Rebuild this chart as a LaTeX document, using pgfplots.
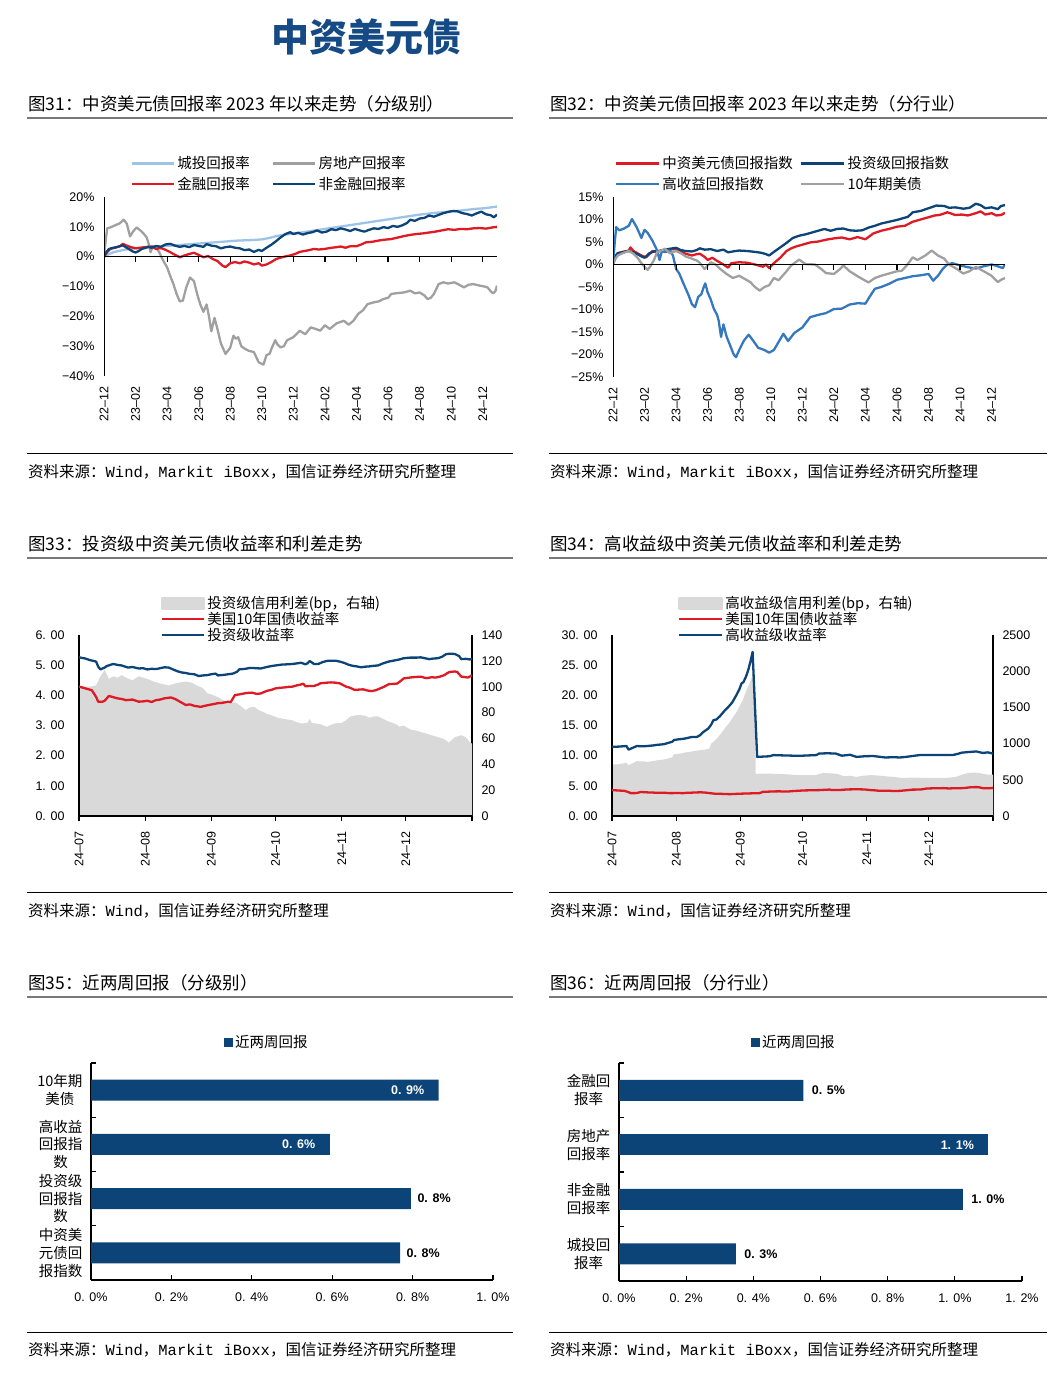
\documentclass[border=0pt]{standalone}
\usepackage{pgfplots}
\pgfplotsset{compat=1.18}
\usepackage{fontspec}
\setmainfont{Noto Sans CJK SC}
\newfontfamily\arial{Liberation Sans}
\newfontfamily\mono{Liberation Mono}
\definecolor{navy}{RGB}{12,68,120}
\definecolor{cred}{RGB}{222,26,36}
\definecolor{lblue}{RGB}{157,195,230}
\definecolor{cgray}{RGB}{160,160,160}
\definecolor{mblue}{RGB}{52,120,190}
\definecolor{agray}{RGB}{217,217,217}
\definecolor{tblue}{RGB}{22,74,132}
\definecolor{hgray}{RGB}{120,120,120}
\pgfplotsset{
 base/.style={scale only axis, enlargelimits=false,
   tick label style={font=\arial\fontsize{12.5}{14}\selectfont},
   legend style={draw=none, fill=none, inner sep=0pt, outer sep=0pt,
     font=\fontsize{14.5}{17}\selectfont, nodes={inner xsep=2.5pt, inner ysep=1pt}, anchor=north west},
   legend cell align=left},
}
\pgfplotstableread{
x y
0 4.29
3 4.23
6 4.17
8 3.95
9 3.79
11 3.79
12 3.82
14 3.98
16 3.94
18 3.90
20 3.88
22 3.84
25 3.86
28 3.79
30 3.80
32 3.82
34 3.78
36 3.84
38 3.86
40 3.90
43 3.93
45 3.88
47 3.80
50 3.68
52 3.70
54 3.65
57 3.62
60 3.67
63 3.71
65 3.74
67 3.75
70 3.79
71 3.77
73 4.01
75 4.03
77 4.06
79 4.08
81 4.09
83 4.05
85 4.06
88 4.15
90 4.18
92 4.23
94 4.25
96 4.26
98 4.28
100 4.29
102 4.33
104 4.36
105 4.39
106 4.30
108 4.31
110 4.31
112 4.36
113 4.40
116 4.42
118 4.43
120 4.42
122 4.40
125 4.29
127 4.25
129 4.18
131 4.19
133 4.20
135 4.16
137 4.14
139 4.17
141 4.23
143 4.29
145 4.37
147 4.38
149 4.39
151 4.50
152 4.56
154 4.58
156 4.60
158 4.61
160 4.62
162 4.58
163 4.57
165 4.60
167 4.59
169 4.62
171 4.67
173 4.76
174 4.78
176 4.79
177 4.78
178 4.70
179 4.62
181 4.60
182 4.59
183 4.62
184 4.67
}\ustreasury
\begin{document}
\begin{tikzpicture}
\path[use as bounding box] (0pt,0pt) rectangle (1061pt,-1381pt);
% ---------- page title and frames ----------
\node[text=tblue, font=\fontsize{38}{42}\selectfont\bfseries] at (366.5pt,-37pt) {中资美元债};
\foreach \yh/\ys/\yl/\ysrc/\tl/\tr in {
  104/118/453/472/{图31：中资美元债回报率 2023 年以来走势（分级别）}/{图32：中资美元债回报率 2023 年以来走势（分行业）},
  544/558/892/911/{图33：投资级中资美元债收益率和利差走势}/{图34：高收益级中资美元债收益率和利差走势},
  983/997/1332/1350/{图35：近两周回报（分级别）}/{图36：近两周回报（分行业）}}{
  \node[anchor=west, inner sep=0pt, font=\fontsize{17.5}{20}\selectfont] at (28pt,-\yh pt) {\tl};
  \node[anchor=west, inner sep=0pt, font=\fontsize{17.5}{20}\selectfont] at (550pt,-\yh pt) {\tr};
  \draw[hgray, line width=1.6pt] (27pt,-\ys pt) -- (513pt,-\ys pt);
  \draw[hgray, line width=1.6pt] (549pt,-\ys pt) -- (1047pt,-\ys pt);
  \draw[black, line width=0.9pt] (27pt,-\yl pt) -- (513pt,-\yl pt);
  \draw[black, line width=0.9pt] (549pt,-\yl pt) -- (1047pt,-\yl pt);
}
\foreach \ysrc/\who in {472/1,911/0,1350/1}{
  \node[anchor=west, inner sep=0pt, font=\fontsize{15.5}{18}\selectfont] at (28pt,-\ysrc pt)
    {资料来源：{\mono Wind}，\ifnum\who=1 {\mono Markit iBoxx}，\fi 国信证券经济研究所整理};
  \node[anchor=west, inner sep=0pt, font=\fontsize{15.5}{18}\selectfont] at (550pt,-\ysrc pt)
    {资料来源：{\mono Wind}，\ifnum\who=1 {\mono Markit iBoxx}，\fi 国信证券经济研究所整理};
}
% ---------- Figure 31 ----------
\begin{axis}[base, at={(104pt,-376pt)}, anchor=south west, width=393pt, height=179pt,
  xmin=0, xmax=24.9, ymin=-40, ymax=20,
  axis line style={draw=none}, tick style={draw=none},
  xtick={0,2,...,24},
  xticklabels={22–12,23–02,23–04,23–06,23–08,23–10,23–12,24–02,24–04,24–06,24–08,24–10,24–12},
  xticklabel style={yshift=-7pt, rotate=90, anchor=east},
  ytick={-40,-30,...,20},
  yticklabels={−40\%,−30\%,−20\%,−10\%,0\%,10\%,20\%},
  yticklabel style={xshift=-6pt},
  legend columns=2,
  legend style={at={(axis description cs:0.0674,1.232)}, /tikz/every even column/.append style={column sep=19.5pt}, row sep=5pt},
  legend image code/.code={\draw[#1] (0pt,0pt) -- (42pt,0pt);},
  every axis plot/.append style={line width=2.3pt, line join=round},
]
\addplot[lblue] coordinates {(0,0) (0.3,0.8) (0.6,1.5) (1,2.0) (1.5,2.5) (2,2.8) (2.5,3.0) (3,3.2) (3.5,3.4) (4,3.6) (4.5,3.8) (5,4.0) (5.5,4.2) (6,4.4) (6.5,4.6) (7,4.8) (7.5,5.0) (8,5.2) (8.5,5.4) (9,5.5) (9.5,5.6) (10,5.8) (10.5,6.3) (11,7.0) (11.5,7.4) (12,7.7) (12.5,8.1) (13,8.5) (13.5,8.9) (14,9.3) (14.5,9.7) (15,10.1) (15.5,10.5) (16,10.9) (16.5,11.3) (17,11.7) (17.5,12.1) (18,12.5) (18.5,12.9) (19,13.3) (19.5,13.7) (20,14.1) (20.5,14.4) (21,14.7) (21.5,14.9) (22,15.2) (22.5,15.4) (23,15.7) (23.5,16.0) (24,16.2) (24.5,16.5) (24.9,16.8)};
\addlegendentry{城投回报率}
\addplot[cgray] coordinates {(0,0) (0.1,5) (0.2,9.5) (0.4,9.8) (0.7,10.5) (1.0,11.2) (1.25,12.4) (1.45,11.0) (1.65,6.8) (1.85,8.5) (2.07,9.8) (2.3,8.8) (2.5,7.8) (2.7,6.5) (2.85,4.0) (2.95,1.5) (3.1,3.5) (3.3,3.0) (3.5,1.5) (3.75,-1.3) (4.0,-3.6) (4.2,-6.5) (4.4,-9.2) (4.6,-12.5) (4.8,-15.0) (5.0,-14.7) (5.2,-10.5) (5.45,-7.0) (5.7,-8.2) (5.9,-12.5) (6.1,-16.0) (6.3,-18.5) (6.5,-16.0) (6.65,-20) (6.8,-25.0) (7.0,-20.5) (7.2,-24.5) (7.4,-29.0) (7.7,-32.6) (8.0,-30.5) (8.2,-26.5) (8.35,-27.5) (8.5,-27.0) (8.7,-30.0) (8.9,-30.8) (9.15,-31.5) (9.5,-32.0) (9.8,-35.4) (10.1,-36.2) (10.3,-33.0) (10.5,-32.5) (10.6,-31.0) (10.85,-28.0) (11.0,-29.5) (11.2,-30.4) (11.4,-30.0) (11.6,-28.0) (12.0,-27.0) (12.4,-24.8) (12.75,-26.0) (13.1,-23.7) (13.4,-24.2) (13.7,-24.8) (14.0,-23.0) (14.3,-24.2) (14.75,-22.3) (15.2,-21.5) (15.5,-22.8) (15.8,-21.5) (16.1,-19.2) (16.4,-18.0) (16.7,-15.9) (17.1,-15.3) (17.4,-15.0) (17.7,-14.2) (18.0,-13.8) (18.2,-12.5) (18.6,-12.2) (19.0,-12.0) (19.4,-11.4) (19.7,-12.3) (20.0,-12.0) (20.3,-13.0) (20.5,-14.2) (20.7,-13.8) (20.9,-12.5) (21.2,-9.2) (21.5,-8.6) (21.8,-9.0) (22.2,-8.6) (22.5,-9.4) (22.8,-10.3) (23.1,-9.4) (23.4,-9.2) (23.8,-9.7) (24.1,-10.0) (24.3,-10.3) (24.5,-11.6) (24.65,-12.3) (24.8,-11.5) (24.9,-9.7)};
\addlegendentry{房地产回报率}
\addplot[cred] coordinates {(0,0) (0.2,1.5) (0.4,2.6) (0.7,3.0) (1.0,3.5) (1.2,4.3) (1.4,3.8) (1.7,3.2) (2.0,2.8) (2.3,3.0) (2.6,3.2) (3.0,3.4) (3.3,2.6) (3.6,2.9) (3.9,2.3) (4.2,1.5) (4.5,0.6) (4.8,-0.2) (5.1,0.4) (5.4,0.9) (5.7,1.3) (6.0,0.6) (6.3,-0.2) (6.6,0.2) (6.9,-0.8) (7.2,-1.5) (7.5,-3.0) (7.7,-3.5) (8.0,-2.2) (8.3,-1.8) (8.6,-2.2) (8.9,-1.6) (9.2,-2.0) (9.5,-2.6) (9.8,-2.2) (10.0,-3.0) (10.3,-2.6) (10.6,-1.8) (10.9,-0.8) (11.2,-0.3) (11.5,0.1) (11.8,0.4) (12.1,0.9) (12.4,1.6) (12.7,1.9) (13.0,2.2) (13.3,2.6) (13.6,2.4) (14.0,2.6) (14.3,2.9) (14.6,3.1) (15.0,3.4) (15.3,3.0) (15.6,3.5) (16.0,3.5) (16.3,4.1) (16.6,4.8) (17.0,5.0) (17.4,5.4) (17.8,5.7) (18.2,5.9) (18.6,6.4) (19.0,6.9) (19.4,7.3) (19.8,7.6) (20.2,7.8) (20.6,8.1) (21.0,8.4) (21.4,8.8) (21.8,9.2) (22.2,9.0) (22.6,9.3) (23.0,9.2) (23.4,9.5) (23.8,9.6) (24.2,9.4) (24.6,9.8) (24.9,10.0)};
\addlegendentry{金融回报率}
\addplot[navy] coordinates {(0,0) (0.15,1.5) (0.3,2.5) (0.5,2.9) (0.8,3.2) (1.0,3.5) (1.2,3.8) (1.4,3.1) (1.6,2.5) (1.8,1.8) (2.0,1.4) (2.2,1.9) (2.4,2.6) (2.6,2.9) (2.8,3.3) (3.0,3.0) (3.3,3.6) (3.6,3.3) (3.9,4.1) (4.2,4.3) (4.5,3.7) (4.8,3.3) (5.1,3.6) (5.4,3.2) (5.7,3.9) (6.0,3.6) (6.3,3.3) (6.5,4.2) (6.8,3.7) (7.1,3.5) (7.4,2.8) (7.7,3.2) (8.0,3.4) (8.3,3.0) (8.6,2.8) (8.9,2.2) (9.2,2.4) (9.5,1.6) (9.8,2.3) (10.0,1.9) (10.3,3.0) (10.6,4.0) (10.9,5.2) (11.2,6.5) (11.5,7.6) (11.8,8.2) (12.0,7.6) (12.3,8.0) (12.6,7.4) (12.9,7.9) (13.2,8.2) (13.5,8.8) (13.8,8.1) (14.1,8.4) (14.4,9.2) (14.7,8.9) (15.0,9.5) (15.3,9.1) (15.6,8.6) (15.9,9.3) (16.2,8.8) (16.5,8.4) (16.8,9.0) (17.1,9.5) (17.4,9.3) (17.7,9.9) (18.0,9.6) (18.3,10.3) (18.6,10.0) (18.9,10.5) (19.2,11.3) (19.4,12.4) (19.7,12.0) (20.0,12.8) (20.3,13.0) (20.6,13.8) (20.9,13.4) (21.2,14.0) (21.5,14.6) (21.8,15.0) (22.1,15.3) (22.4,15.2) (22.7,14.6) (23.0,14.3) (23.3,13.8) (23.6,14.5) (23.9,15.1) (24.2,14.2) (24.5,13.9) (24.7,13.2) (24.9,14.1)};
\addlegendentry{非金融回报率}
\draw[black, line width=1.2pt] (axis cs:0,-40) -- (axis cs:0,20);
\draw[black, line width=1.2pt] (axis cs:0,0) -- (axis cs:24.9,0);
\pgfplotsinvokeforeach{2,4,...,24}{\draw[black, line width=1.2pt] (axis cs:#1,0) -- ([yshift=-5pt]axis cs:#1,0);}
\end{axis}
% ---------- Figure 32 ----------
\begin{axis}[base, at={(613pt,-377pt)}, anchor=south west, width=392pt, height=180pt,
  xmin=0, xmax=24.85, ymin=-25, ymax=15,
  axis line style={draw=none}, tick style={draw=none},
  xtick={0,2,...,24},
  xticklabels={22–12,23–02,23–04,23–06,23–08,23–10,23–12,24–02,24–04,24–06,24–08,24–10,24–12},
  xticklabel style={yshift=-7pt, rotate=90, anchor=east},
  ytick={-25,-20,...,15},
  yticklabels={−25\%,−20\%,−15\%,−10\%,−5\%,0\%,5\%,10\%,15\%},
  yticklabel style={xshift=-6pt},
  legend columns=2,
  legend style={at={(axis description cs:0.0038,1.2306)}, /tikz/every even column/.append style={column sep=4.5pt}, row sep=5pt},
  legend image code/.code={\draw[#1] (0pt,0pt) -- (43pt,0pt);},
  every axis plot/.append style={line width=2.3pt, line join=round},
]
\addplot[cred] coordinates {(0,0) (0.15,1.8) (0.3,2.5) (0.6,2.8) (1.0,3.1) (1.1,3.8) (1.3,3.0) (1.6,2.4) (1.8,2.0) (2.1,1.6) (2.3,2.3) (2.5,3.0) (2.8,2.8) (3.0,3.1) (3.3,2.8) (3.6,3.3) (4.0,3.5) (4.3,2.9) (4.6,2.4) (5.0,2.0) (5.3,2.3) (5.5,2.4) (5.8,1.7) (6.0,1.0) (6.3,1.5) (6.6,0.8) (7.0,0.0) (7.3,-0.7) (7.5,0.3) (8.0,0.5) (8.5,0.4) (9.0,0.0) (9.3,-0.3) (9.5,-0.5) (9.7,0.0) (9.9,-0.8) (10.2,0.3) (10.6,1.5) (11.0,3.0) (11.3,3.6) (11.6,4.0) (12.0,4.4) (12.5,4.9) (13.0,5.1) (13.5,5.5) (14.0,5.8) (14.5,6.0) (15.0,5.6) (15.5,6.1) (16.0,5.6) (16.5,6.9) (17.0,7.5) (17.5,7.9) (18.0,8.4) (18.5,8.6) (19.0,9.5) (19.5,10.0) (20.0,10.5) (20.4,10.9) (20.7,11.0) (21.2,11.6) (21.7,11.0) (22.1,11.1) (22.5,10.9) (23.0,11.4) (23.3,11.8) (23.6,11.1) (24.0,11.4) (24.3,10.9) (24.6,11.0) (24.85,11.5)};
\addlegendentry{中资美元债回报指数}
\addplot[navy] coordinates {(0,0) (0.15,1.8) (0.3,2.5) (0.6,2.7) (1.0,3.0) (1.3,2.7) (1.6,2.2) (1.8,1.8) (2.0,1.5) (2.3,2.5) (2.6,2.9) (3.0,3.0) (3.3,3.3) (3.6,3.5) (4.0,3.7) (4.3,3.2) (4.6,3.0) (5.0,2.9) (5.3,3.2) (5.5,3.6) (5.8,3.3) (6.2,3.4) (6.6,3.0) (7.0,3.3) (7.3,2.7) (7.6,2.9) (8.0,3.1) (8.5,3.0) (9.0,2.8) (9.4,2.6) (9.7,2.3) (9.9,2.0) (10.2,2.8) (10.6,3.8) (11.0,4.8) (11.4,5.9) (11.8,6.4) (12.2,6.7) (12.6,7.1) (13.0,7.5) (13.4,7.9) (13.8,7.5) (14.2,7.9) (14.6,8.0) (15.0,7.6) (15.4,7.5) (15.8,7.6) (16.2,8.2) (16.6,8.6) (17.0,9.1) (17.5,9.5) (18.0,9.9) (18.4,10.3) (18.7,10.6) (19.0,11.6) (19.5,11.9) (20.0,12.5) (20.5,13.1) (21.0,13.0) (21.3,12.6) (21.7,12.7) (22.2,12.4) (22.6,12.6) (23.0,13.5) (23.3,13.2) (23.6,12.5) (24.0,12.7) (24.4,12.3) (24.6,13.0) (24.85,13.2)};
\addlegendentry{投资级回报指数}
\addplot[mblue] coordinates {(0,0) (0.1,4.5) (0.2,8.3) (0.4,7.6) (0.7,8.0) (1.0,8.6) (1.2,10.1) (1.5,8.3) (1.8,5.9) (2.0,7.7) (2.2,7.0) (2.5,5.3) (2.8,3.1) (2.95,1.0) (3.1,3.0) (3.35,2.8) (3.6,3.1) (3.8,2.0) (4.0,-1.0) (4.2,-2.0) (4.5,-4.5) (4.8,-6.9) (5.0,-8.8) (5.2,-9.5) (5.4,-7.2) (5.6,-6.6) (5.75,-5.0) (5.85,-4.2) (6.0,-6.2) (6.2,-7.8) (6.4,-9.9) (6.6,-11.2) (6.7,-12.5) (6.85,-16.1) (7.0,-13.3) (7.2,-16.0) (7.45,-18.2) (7.65,-20.0) (7.8,-20.6) (8.0,-19.0) (8.3,-16.9) (8.6,-15.6) (8.9,-17.0) (9.2,-18.5) (9.6,-19.0) (9.9,-19.6) (10.2,-19.0) (10.5,-17.2) (10.8,-15.4) (11.1,-17.0) (11.5,-15.2) (12.0,-14.0) (12.5,-11.7) (13.0,-11.2) (13.5,-10.8) (14.0,-9.9) (14.5,-9.8) (15.0,-8.9) (15.5,-8.6) (16.0,-8.7) (16.3,-7.0) (16.6,-5.4) (17.0,-5.0) (17.5,-4.3) (18.0,-3.4) (18.5,-3.0) (19.0,-2.6) (19.5,-2.4) (20.0,-2.1) (20.3,-3.6) (20.6,-2.5) (20.9,-1.0) (21.2,0.0) (21.5,0.3) (22.0,-0.2) (22.5,-0.6) (23.0,-0.9) (23.5,-0.4) (24.0,0.0) (24.4,-0.4) (24.7,-0.8) (24.85,0.0)};
\addlegendentry{高收益回报指数}
\addplot[cgray] coordinates {(0,0) (0.15,1.2) (0.3,2.0) (0.6,2.5) (1.0,3.0) (1.3,2.4) (1.6,1.3) (1.8,0.3) (2.0,-0.5) (2.2,-1.2) (2.4,-0.2) (2.6,1.0) (2.8,2.8) (3.0,3.0) (3.3,3.5) (3.6,2.5) (4.0,3.0) (4.3,2.5) (4.6,1.8) (5.0,1.3) (5.3,0.9) (5.5,0.4) (5.8,-1.0) (6.2,0.5) (6.5,0.0) (6.8,-1.0) (7.2,-2.1) (7.6,-3.0) (8.0,-2.5) (8.3,-3.1) (8.7,-3.9) (9.0,-5.0) (9.3,-5.8) (9.6,-5.0) (9.9,-4.6) (10.2,-3.0) (10.5,-3.5) (11.0,-1.5) (11.3,-0.2) (11.8,1.1) (12.2,0.1) (12.8,0.0) (13.2,-1.0) (13.5,-1.9) (14.0,-2.1) (14.4,-1.0) (14.6,-0.2) (15.0,-1.5) (15.5,-2.6) (16.0,-3.6) (16.2,-4.0) (16.6,-3.0) (17.0,-2.5) (17.5,-2.0) (18.0,-1.5) (18.3,-1.4) (18.6,-0.3) (19.0,1.6) (19.3,1.0) (19.8,2.0) (20.2,3.1) (20.6,2.0) (21.0,1.3) (21.3,0.0) (21.8,-1.0) (22.2,-2.0) (22.6,-1.5) (23.0,-0.5) (23.5,-1.5) (24.0,-2.5) (24.4,-3.9) (24.6,-3.4) (24.85,-3.0)};
\addlegendentry{10年期美债}
\draw[black, line width=1.2pt] (axis cs:0,-25) -- (axis cs:0,15);
\draw[black, line width=1.2pt] (axis cs:0,0) -- (axis cs:24.85,0);
\pgfplotsinvokeforeach{2,4,...,24}{\draw[black, line width=1.2pt] (axis cs:#1,0) -- ([yshift=-5pt]axis cs:#1,0);}
\end{axis}
% ---------- Figure 33 ----------
\begin{axis}[base, at={(79pt,-816pt)}, anchor=south west, width=393pt, height=181pt,
  xmin=0, xmax=184, ymin=0, ymax=140,
  axis x line=none, axis y line*=right, axis line style={-, line width=1.2pt},
  ytick={0,20,...,140}, yticklabels={0,20,40,60,80,100,120,140},
  ytick style={draw=none}, yticklabel style={xshift=6pt},
]
\addplot[fill=agray, draw=none] coordinates {(0,101) (3,100) (5,100) (8,101) (10,108) (12,113) (14,106) (16,108) (18,107) (20,109) (22,107) (25,105) (28,108) (32,106) (35,104) (38,102.5) (42,101) (46,103) (50,104) (53,103) (55,101) (58,99) (60,95) (62,94) (65,92) (68,89) (70,87) (73,88) (75,86) (78,82) (80,84) (82,84.5) (84,82) (86,80.6) (88,79) (90,78) (93,76) (95,75.4) (98,74.5) (100,74) (102,72.5) (104,71.6) (107,72) (108,75) (109,72) (111,71.5) (113,71) (116,69) (118,70.5) (120,71.6) (123,72) (125,74) (127,77) (130,78) (132,78) (134,77.5) (136,76) (138,77) (140,77) (142,75.5) (145,73) (147,72) (149,70.5) (150,69) (152,70) (155,67) (158,66) (160,65) (163,63.5) (165,62.5) (168,61) (170,60) (172,58.5) (173,56.6) (174,58) (176,61) (178,62) (179,62.5) (181,61) (182,59) (183,57) (184,56)} \closedcycle;
\end{axis}
\begin{axis}[base, at={(79pt,-816pt)}, anchor=south west, width=393pt, height=181pt,
  xmin=0, xmax=184, ymin=0, ymax=6,
  axis x line*=bottom, axis y line*=left, axis line style={-, line width=1.2pt},
  xtick={0,31,62,92,123,153,184}, xticklabels={24–07,24–08,24–09,24–10,24–11,24–12,},
  xticklabel style={yshift=-7pt, rotate=90, anchor=east},
  ytick={0,1,...,6}, yticklabels={0. 00,1. 00,2. 00,3. 00,4. 00,5. 00,6. 00},
  yticklabel style={xshift=-6pt},
  tick align=outside, major tick length=5pt, xtick style={black, line width=1.2pt}, ytick style={draw=none},
  legend style={at={(axis description cs:0.2074,1.218)}, row sep=0pt},
  legend image code/.code={\draw[#1] (0pt,0pt) -- (42pt,0pt);},
  every axis plot/.append style={line width=2.3pt, line join=round},
]
\addlegendimage{legend image code/.code={\fill[agray] (0pt,-5pt) rectangle (42pt,5pt);}}
\addlegendentry{投资级信用利差(bp，右轴)}
\addplot[cred] table {\ustreasury};
\addlegendentry{美国10年国债收益率}
\addplot[navy] coordinates {(0,5.26) (3,5.22) (5,5.17) (8,5.12) (9,4.95) (10,4.86) (12,4.92) (13,4.97) (16,5.04) (18,5.01) (20,4.99) (23,4.92) (25,4.94) (28,4.89) (30,4.90) (32,4.86) (34,4.88) (36,4.87) (38,4.90) (40,4.93) (42,4.92) (44,4.86) (46,4.80) (48,4.76) (50,4.74) (52,4.71) (54,4.70) (56,4.64) (58,4.66) (60,4.67) (62,4.70) (64,4.72) (65,4.66) (68,4.68) (70,4.70) (72,4.72) (74,4.78) (75,4.86) (78,4.88) (80,4.91) (83,4.90) (85,4.89) (88,4.94) (90,4.97) (93,5.00) (95,5.02) (98,5.03) (100,5.04) (102,5.06) (104,5.08) (106,5.03) (107,5.06) (108,5.14) (110,5.04) (112,5.04) (114,5.10) (116,5.14) (118,5.15) (120,5.15) (122,5.12) (124,5.08) (126,5.02) (128,4.98) (130,4.96) (132,4.93) (134,4.95) (136,4.96) (138,4.98) (140,4.99) (142,5.05) (145,5.12) (148,5.16) (150,5.19) (152,5.23) (155,5.25) (158,5.25) (160,5.26) (162,5.23) (164,5.20) (166,5.22) (168,5.23) (170,5.28) (172,5.37) (174,5.38) (176,5.37) (178,5.30) (179,5.20) (181,5.21) (183,5.19) (184,5.21)};
\addlegendentry{投资级收益率}
\end{axis}
% ---------- Figure 34 ----------
\begin{axis}[base, at={(612pt,-816pt)}, anchor=south west, width=381pt, height=181pt,
  xmin=0, xmax=184, ymin=0, ymax=2500,
  axis x line=none, axis y line*=right, axis line style={-, line width=1.2pt},
  ytick={0,500,...,2500}, yticklabels={0,500,1000,1500,2000,2500},
  ytick style={draw=none}, yticklabel style={xshift=6pt},
]
\addplot[fill=agray, draw=none] coordinates {(0,710) (3,715) (5,725) (7,733) (8,701) (10,730) (12,757) (15,755) (17,747) (20,760) (22,770) (25,780) (27,793) (29,810) (30,853) (33,862) (35,876) (38,888) (40,900) (43,910) (45,918) (47,930) (48,1001) (50,1050) (52,1116) (54,1190) (55,1232) (57,1300) (58,1347) (60,1430) (61,1485) (63,1590) (64,1670) (65,1740) (66,1808) (67,1880) (68,1950) (68.8,1950) (69.4,580) (72,586) (75,586) (78,583) (80,582) (85,575) (90,563) (95,565) (98,563) (100,580) (102,595) (105,590) (108,585) (110,570) (112,549) (115,555) (118,540) (121,555) (125,565) (128,560) (132,549) (136,540) (140,526) (145,530) (150,528) (155,526) (160,526) (163,530) (166,540) (169,570) (172,595) (175,600) (177,595) (179,585) (181,572) (184,570)} \closedcycle;
\end{axis}
\begin{axis}[base, at={(612pt,-816pt)}, anchor=south west, width=381pt, height=181pt,
  xmin=0, xmax=184, ymin=0, ymax=30,
  axis x line*=bottom, axis y line*=left, axis line style={-, line width=1.2pt},
  xtick={0,31,62,92,123,153,184}, xticklabels={24–07,24–08,24–09,24–10,24–11,24–12,},
  xticklabel style={yshift=-7pt, rotate=90, anchor=east},
  ytick={0,5,...,30}, yticklabels={0. 00,5. 00,10. 00,15. 00,20. 00,25. 00,30. 00},
  yticklabel style={xshift=-6pt},
  tick align=outside, major tick length=5pt, xtick style={black, line width=1.2pt}, ytick style={draw=none},
  legend style={at={(axis description cs:0.172,1.218)}, row sep=0pt},
  legend image code/.code={\draw[#1] (0pt,0pt) -- (43pt,0pt);},
  every axis plot/.append style={line width=2.3pt, line join=round},
]
\addlegendimage{legend image code/.code={\fill[agray] (0pt,-5pt) rectangle (43pt,5pt);}}
\addlegendentry{高收益级信用利差(bp，右轴)}
\addplot[cred] table {\ustreasury};
\addlegendentry{美国10年国债收益率}
\addplot[navy] coordinates {(0,11.46) (3,11.5) (5,11.55) (7,11.6) (8,11.0) (10,11.3) (12,11.6) (15,11.55) (17,11.6) (20,11.7) (22,11.8) (25,11.9) (27,12.1) (29,12.3) (30,12.6) (32,12.7) (34.5,12.8) (36,12.9) (38.5,13.1) (41,13.1) (42.5,13.4) (44,13.9) (46.5,14.5) (48,15.2) (49,15.9) (50.5,16.0) (52,16.5) (54.5,17.5) (56,18.0) (58,18.8) (60,20.0) (61.5,21.0) (62.6,22.0) (63.5,22.2) (64.7,23.1) (65.8,24.2) (67,25.8) (67.9,27.2) (70.1,9.8) (73,9.85) (76,9.9) (78,10.1) (82,10.05) (87.5,10.0) (92,10.0) (98.7,10.1) (100,10.35) (104,10.4) (108,10.35) (111,10.0) (115,10.15) (118,9.8) (122,9.9) (126,9.95) (132,9.7) (136,9.75) (139,9.7) (142,9.8) (148.5,10.1) (153,10.1) (158,10.1) (164.5,10.1) (167,10.3) (169,10.5) (172,10.6) (176,10.7) (179,10.45) (181.5,10.55) (184,10.35)};
\addlegendentry{高收益级收益率}
\end{axis}
% ---------- Figure 35 ----------
\begin{axis}[base, at={(91pt,-1280pt)}, anchor=south west, width=402pt, height=217pt,
  xbar, bar width=21pt, xmin=0, xmax=1.0, ymin=-0.5, ymax=3.5,
  axis x line*=bottom, axis y line*=left, axis line style={-, line width=1.2pt},
  xtick={0,0.2,...,1.0}, xticklabels={0. 0\%,0. 2\%,0. 4\%,0. 6\%,0. 8\%,1. 0\%},
  xticklabel style={yshift=-9pt},
  ytick={-0.5,0.5,1.5,2.5,3.5}, yticklabels={},
  extra y ticks={0,1,2,3},
  extra y tick labels={{中资美\\元债回\\报指数},{投资级\\回报指\\数},{高收益\\回报指\\数},{10年期\\美债}},
  extra y tick style={major tick length=0pt, yticklabel style={align=center, font=\fontsize{14.5}{17.7}\selectfont, xshift=-5pt}},
  tick align=inside, major tick length=5pt, tick style={black, line width=1.2pt},
  legend style={at={(axis description cs:0.3296,1.131)}},
]
\addplot[fill=navy, draw=none, bar shift=0pt, point meta=explicit symbolic, nodes near coords,
  nodes near coords style={font=\arial\bfseries\fontsize{12.5}{14}\selectfont, text=black, anchor=west, xshift=3pt},
  legend image code/.code={\fill[navy] (-2pt,-4.5pt) rectangle (7pt,4.5pt);}]
  coordinates {(0.769,0) [0. 8\%] (0.796,1) [0. 8\%]};
\addlegendentry{近两周回报}
\addplot[fill=navy, draw=none, bar shift=0pt, forget plot, point meta=explicit symbolic, nodes near coords,
  nodes near coords style={font=\arial\bfseries\fontsize{12.5}{14}\selectfont, text=white, anchor=east, xshift=-11pt}]
  coordinates {(0.594,2) [0. 6\%] (0.865,3) [0. 9\%]};
\end{axis}
% ---------- Figure 36 ----------
\begin{axis}[base, at={(619pt,-1281pt)}, anchor=south west, width=403pt, height=218pt,
  xbar, bar width=21pt, xmin=0, xmax=1.2, ymin=-0.5, ymax=3.5,
  axis x line*=bottom, axis y line*=left, axis line style={-, line width=1.2pt},
  xtick={0,0.2,...,1.2}, xticklabels={0. 0\%,0. 2\%,0. 4\%,0. 6\%,0. 8\%,1. 0\%,1. 2\%},
  xticklabel style={yshift=-9pt},
  ytick={-0.5,0.5,1.5,2.5,3.5}, yticklabels={},
  extra y ticks={0,1,2,3},
  extra y tick labels={{城投回\\报率},{非金融\\回报率},{房地产\\回报率},{金融回\\报率}},
  extra y tick style={major tick length=0pt, yticklabel style={align=center, font=\fontsize{14.5}{17.7}\selectfont, xshift=-5pt}},
  tick align=inside, major tick length=5pt, tick style={black, line width=1.2pt},
  legend style={at={(axis description cs:0.3263,1.131)}},
]
\addplot[fill=navy, draw=none, bar shift=0pt, point meta=explicit symbolic, nodes near coords,
  nodes near coords style={font=\arial\bfseries\fontsize{12.5}{14}\selectfont, text=black, anchor=west, xshift=5pt},
  legend image code/.code={\fill[navy] (-2pt,-4.5pt) rectangle (7pt,4.5pt);}]
  coordinates {(0.348,0) [0. 3\%] (1.024,1) [1. 0\%] (0.549,3) [0. 5\%]};
\addlegendentry{近两周回报}
\addplot[fill=navy, draw=none, bar shift=0pt, forget plot, point meta=explicit symbolic, nodes near coords,
  nodes near coords style={font=\arial\bfseries\fontsize{12.5}{14}\selectfont, text=white, anchor=east, xshift=-11pt}]
  coordinates {(1.100,2) [1. 1\%]};
\end{axis}
\end{tikzpicture}
\end{document}
